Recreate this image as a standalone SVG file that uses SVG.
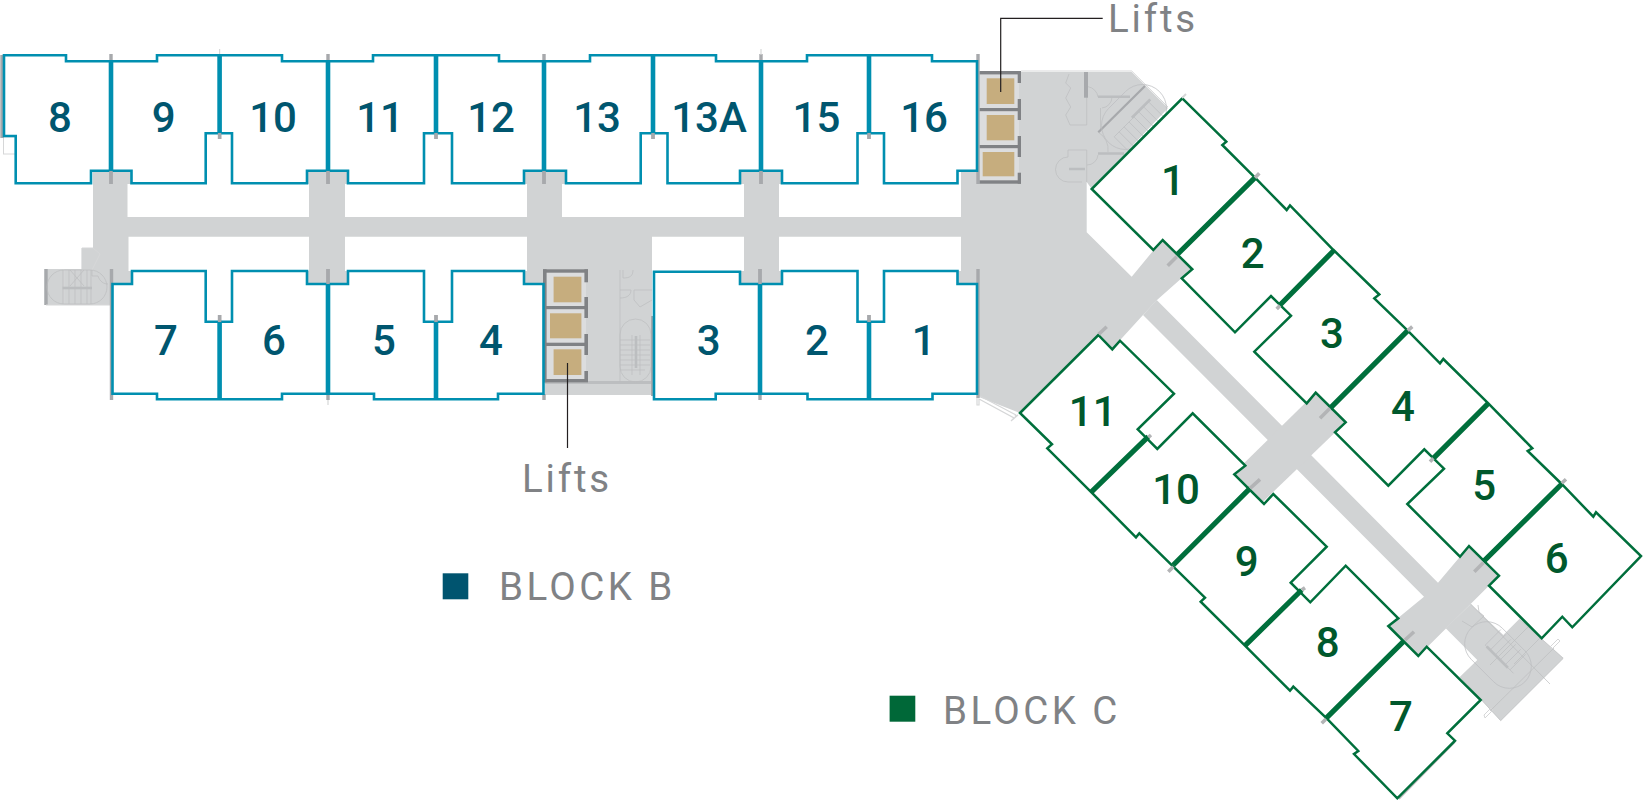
<svg xmlns="http://www.w3.org/2000/svg" width="1643" height="802" viewBox="0 0 1643 802">
<style>
.floor{fill:#d1d3d4}
.det{fill:none;stroke:#bbbdbf;stroke-width:.7}
.bar{fill:none;stroke:#bcbec0;stroke-width:2.6}
.pale{fill:none;stroke:#d6d7d8;stroke-width:1}
.stub{stroke:#a7a9ac;fill:none;stroke-width:3.4}
.stubc{stroke:#b3b4b6;fill:none;stroke-width:3.6}
.frame{fill:#808285}
.shaft{fill:#dcddde}
.car{fill:#c6ad7e}
.bo{fill:#fff;stroke:#008fb0;stroke-width:2.6}
.bw{fill:none;stroke:#008fb0;stroke-width:4.6}
.co{fill:#fff;stroke:#006f3c;stroke-width:2.5}
.cw{fill:none;stroke:#006f3c;stroke-width:5.2}
.lead{fill:none;stroke:#231f20;stroke-width:1.2}
.nb,.nc{font-family:Roboto,"Liberation Sans",sans-serif;font-weight:500;font-size:42px;text-anchor:middle}
.nb{fill:#00566f}
.nc{fill:#00582c}
.lab{font-family:Roboto,"Liberation Sans",sans-serif;font-weight:400;font-size:38.5px;fill:#808285;letter-spacing:2.8px}
.leg{letter-spacing:3.4px}
</style>
<g id="floor">
<path class="floor" d="M91,171H131V184H127.5V217H309V184H307V171H348V184H345V217H527V184H524V171H566V184H562V217H744V184H740V171H782V184H779V217H961V171H979V72H1131.7L1168,108L1091.7,189L1086.7,182V232.3L1131.7,276.7L1162,240L1192,269L1157,300L1143,315L1112,349L1098,335L1020,413L979,397V284H957.5V271H961V236.7H779V271H782V284H740V271H744V236.7H652V395H545V284H524V271H527V236.7H345V271H348V284H307V271H309V236.7H128.5V271H132V284H111V269H93V171Z"/>
<path class="floor" d="M1156.7,300L1438,582.7L1469,546L1499,575.7L1418.3,656L1388.3,626L1424,596.7L1143,315Z"/>
<path class="floor" d="M1315.7,392.7L1345.7,422.3L1263,501.7L1234,473Z"/>
<path class="floor" d="M1470.7,604L1503.3,635L1519.3,619L1563.3,658.3L1500.7,720.7L1460,676.7L1477.3,660L1445.7,628.3Z"/>
<path class="floor" d="M44.6,269H112V305H44.6ZM81.4,248H93V269H81.4Z"/>
</g>
<g id="stair-west">
<path class="stub" d="M46,269V305"/>
<path class="pale" d="M46,305H110M64,269V305M82,248H93L100,254L92,270"/>
<rect class="det" x="47" y="270" width="60" height="34" rx="17" ry="17"/>
<path class="det" d="M63,270V304M69,270V304M75,270V304M81,270V304M87,270V304M91,270V304M70,270L84,286M84,270L70,286M92,270V276H98C100,282 104,284 108,284"/>
<path class="bar" d="M62.5,288H92"/>
</g>
<g id="service-south">
<rect x="545" y="381" width="107" height="3" fill="#bcbec0"/>
<path class="det" d="M620,270V382M623,270V278C630,278 633,276 633,270M620,290H631C631,296 626,298 620,298M634,290V300L640,307L652,300M634,290H652"/>
<rect class="det" x="620" y="319" width="31" height="63" rx="15.5" ry="15.5"/>
<path class="det" d="M620,340H650M620,345H650M620,350H650M620,355H650M620,360H650M620,365H650M620,370H645M632,335V375M640,335V375"/>
<path class="bar" d="M636,336V368"/>
<path class="stub" d="M652,316V396" style="stroke-width:2"/>
</g>
<g id="service-north">
<path class="pale" d="M1021,71H1131.7L1168,107"/>
<path class="det" d="M1069,74L1065.7,83L1070.7,88L1065.7,98L1070.7,107L1065.7,115L1070,125H1086.7V97M1088,86.7A12,12 0 0 1 1098,97M1100.5,108V132M1102,108A11,11 0 0 0 1112,97M1098.3,132.3A20,20 0 0 1 1108,152M1087,165A11,11 0 0 0 1098,155M1068,150H1086.7V182M1068,150V157M1068,182H1082M1068,157A12.4,12.4 0 0 0 1068,182"/>
<path class="bar" d="M1098,96.7H1130M1098,153.5H1124M1069,169H1085"/>
<path class="stub" d="M1086,72V97.7" style="stroke-width:4"/>
<path class="stub" d="M1098.3,132.3L1145,86" style="stroke-width:2.2"/>
<g transform="translate(1134,117) rotate(-45)">
<rect class="det" x="-36" y="-24" width="72" height="48" rx="24" ry="24"/>
<path class="det" d="M-28,0V20M-21,0V20M-14,0V20M-7,0V20M0,0V20M7,0V20M14,0V20M21,0V20M-28,20H24M-28,0H24"/>
<path class="bar" d="M-2,-1H24"/>
</g>
</g>
<g id="stair-east">
<path class="det" d="M1563.3,658.3L1500.7,720.7L1460,676.7M1554,648L1490,711M1519.3,619L1563,658"/>
<g transform="translate(1498,655) rotate(45)">
<rect class="det" x="-38" y="-22" width="76" height="44" rx="22" ry="22"/>
<path class="det" d="M-16,-20V2M-9,-20V2M-2,-20V2M5,-20V2M12,-20V2M19,-20V2M-16,2H24"/>
<path class="bar" d="M-14,2H16"/>
</g>
<path class="det" d="M1470.7,604L1550,684M1462,621L1472,627L1484,616L1479,612L1478,605M1528,627L1490,665M1540,638L1514,664"/>
<path class="pale" d="M1484,715L1491,708L1493,710L1485,718ZM1550,647L1558,639L1560,641L1552,649Z"/>
</g>
<g id="lifts-north">
<rect class="shaft" x="980" y="73" width="39" height="109"/>
<rect class="frame" x="979.3" y="71" width="41.7" height="3.4"/>
<rect class="frame" x="979.3" y="108" width="41.7" height="3.2"/>
<rect class="frame" x="979.3" y="145" width="41.7" height="3.2"/>
<rect class="frame" x="979.3" y="180.3" width="41.7" height="3.4"/>
<rect class="frame" x="1017.7" y="71" width="3.3" height="12"/>
<rect class="frame" x="1017.7" y="99" width="3.3" height="21"/>
<rect class="frame" x="1017.7" y="136" width="3.3" height="21"/>
<rect class="frame" x="1017.7" y="172.7" width="3.3" height="11"/>
<rect class="car" x="986.7" y="78.3" width="27.6" height="25.7"/>
<rect class="car" x="986.7" y="115" width="27.6" height="25.3"/>
<rect class="car" x="982.7" y="152" width="31.6" height="24.3"/>
</g>
<g id="lifts-south">
<rect class="shaft" x="544" y="271" width="42" height="110"/>
<rect class="frame" x="543" y="269.3" width="45" height="3.4"/>
<rect class="frame" x="543" y="306" width="45" height="3.2"/>
<rect class="frame" x="543" y="342.7" width="45" height="3.3"/>
<rect class="frame" x="543" y="379" width="45" height="3.4"/>
<rect class="frame" x="543" y="269.3" width="3.6" height="113"/>
<rect class="frame" x="584.4" y="269.3" width="3.6" height="13"/>
<rect class="frame" x="584.4" y="297" width="3.6" height="21"/>
<rect class="frame" x="584.4" y="334" width="3.6" height="21"/>
<rect class="frame" x="584.4" y="371" width="3.6" height="11"/>
<rect class="car" x="553.6" y="276.7" width="27.8" height="25.6"/>
<rect class="car" x="550" y="313.3" width="31.4" height="25"/>
<rect class="car" x="553.6" y="349.3" width="27.8" height="25.7"/>
</g>
<g id="block-b-outline">
<rect class="pale" x="3.5" y="137" width="12.2" height="17"/>
<path class="stub" d="M111,54V62M111,171V184M219.6,133V139M328,54V62M328,171V184M436,133V139M544,54V62M544,171V184M653,133V139M761,54V62M761,171V184M869,133V139M978,54V72M978,72V184M2,55V138M111.5,269V400M219.6,315V322M328,269V284M328,394V400M436,315V322M544,394V400M760,269V284M760,394V400M869,315V322M978,269V398"/>
<path class="pale" d="M219.6,49V55M761,49V55M328,400V405M977,398V405H979V399L1014,418L1011,421L1018,415L1014.6,416M980,396L1016,415" style="stroke-width:1.2"/>
<path class="bo" d="M4,55.3H66V61.3H157V55.3H282V61.3H373V55.3H499V61.3H590V55.3H716V61.3H807V55.3H932V61.3H977V170.7H957.5V183.3H884V133.3H857.5V183.3H782V170.7H740V183.3H667.5V133.3H640.7V183.3H566V170.7H524V183.3H452V133.3H424V183.3H348V170.7H307V183.3H232V133.3H205.7V183.3H131.5V170.7H91V183.3H15.7V136H4Z"/>
<path class="bo" d="M112.5,284H132V271H205.7V321.7H232V271H307V284H348V271H424V321.7H452V271H524V284H543.5V393.7H498V399.3H374V393.7H282V399.3H157V393.7H112.5Z"/>
<path class="bo" d="M654,271.7H740V284H782V271H857.5V321.7H884V271H957.5V284H977V393.7H932.5V399.3H807.5V393.7H715.7V399.3H654Z"/>
<path class="bw" d="M111,61V171M219.6,55V133M328,61V171M436,55V133M544,61V171M653,55V133M761,61V171M869,55V133M219.6,322V399M328,284V394M436,322V399M760,284V394M869,322V399"/>
<path class="stub" d="M111,171V184M328,171V184M544,171V184M761,171V184M219.6,133V139M436,133V139M653,133V139M869,133V139M328,269V284M760,269V284M219.6,315V322M436,315V322M869,315V322"/>
</g>
<g id="block-c-outline">
<path class="stubc" d="M1020,413L1098,335M1641,557L1594,604M1455,742L1399,799" style="stroke-width:1.5"/>
<path class="co" d="M1182.3,98.3L1226.3,141.7L1222.3,145L1255,177.7L1286.7,210L1290,205.5L1333,249.5L1379.3,294.5L1374.3,298.3L1407.7,330.7L1440,363.3L1443.3,359L1488.3,403.3L1532.3,448.3L1527.7,451L1561.7,484L1593.3,516.7L1596,512.3L1641,556L1572.3,627.3L1562.3,616.7L1541.7,638.3L1489,585.7L1499,575.7L1469,546L1460,556.7L1407.3,504L1444,468.7L1424.3,449.3L1388.3,485.7L1335,432.3L1345.7,422.3L1315.7,392.7L1306.7,403.3L1254.3,351.7L1291,315.7L1271,296L1235,332.3L1181.7,278.3L1192.3,269.3L1162.7,240L1153.3,250L1091.7,189Z"/>
<path class="co" d="M1020,413L1098.3,335L1112.3,349.3L1120,340.7L1174,393.7L1137.7,429.3L1157.3,449L1192.7,413.3L1245.3,465.7L1234.3,474.3L1264,504L1273.3,494L1326.7,546.7L1290.7,582.7L1310.3,602.3L1345.7,565.7L1398.3,618.3L1388.3,626L1418.3,656L1426.7,646.7L1480.7,700L1447.3,733.3L1455,740.7L1397.3,798.3L1354,754L1358.3,751L1326.7,718.3L1293.3,686.7L1290,690.7L1245,645.7L1200.7,601.7L1205,597.7L1173.3,566.7L1139.3,533.3L1136,537.3L1091.7,492.7L1047.3,448.3L1052,444.3Z"/>
<path class="cw" d="M1255,177.7L1176.7,255M1334.3,250L1280,305M1407.7,330.7L1330,408.3M1488.3,403.3L1433.3,458.3M1561.7,484L1483.3,561.7M1148.3,436.7L1091.7,491.7M1250,488.3L1173.3,565M1301.7,590L1245,645.7M1403.3,641.7L1326,718.3"/>
<path class="stubc" d="M1167.7,265.7L1176.7,256.7M1255,177.7L1259.3,173.3M1276.7,309L1280,305.5M1098.7,334.3L1106.7,326.7M1320,418.3L1330,408.3M1407.7,330.7L1412.3,326.7M1430,461.7L1433.3,458.3M1561.7,483.3L1566,479.3M1474.3,571.7L1483.3,562.7M1148.3,437.3L1151,435M1250,488.3L1260,479.3M1168.3,571.7L1173.3,566.7M1301.7,590L1305,587.7M1405,640L1414,631.7M1321.7,723.3L1326,719"/>
<path class="pale" d="M1182,98L1186,94" style="stroke-width:2"/>
</g>
<g id="leaders">
<path class="lead" d="M1000.7,92V18.3H1102.7"/>
<path class="lead" d="M567.5,363V448"/>
</g>
<g id="labels">
<text class="lab" x="1108" y="32">Lifts</text>
<text class="lab" x="522" y="492">Lifts</text>
</g>
<g id="legend-b"><rect x="442.7" y="573.3" width="25.6" height="26" fill="#00546f"/><text class="lab leg" x="499" y="599.5">BLOCK B</text></g>
<g id="legend-c"><rect x="889.6" y="695.7" width="25.7" height="26" fill="#006838"/><text class="lab leg" x="943" y="723.5">BLOCK C</text></g>
<g id="unit-b8"><text class="nb" x="60" y="131.7">8</text></g>
<g id="unit-b9"><text class="nb" x="163.6" y="131.7">9</text></g>
<g id="unit-b10"><text class="nb" x="273" y="131.7">10</text></g>
<g id="unit-b11"><text class="nb" x="380" y="131.7">11</text></g>
<g id="unit-b12"><text class="nb" x="491" y="131.7">12</text></g>
<g id="unit-b13"><text class="nb" x="597" y="131.7">13</text></g>
<g id="unit-b13a"><text class="nb" x="709" y="131.7">13A</text></g>
<g id="unit-b15"><text class="nb" x="816.4" y="131.7">15</text></g>
<g id="unit-b16"><text class="nb" x="924" y="131.7">16</text></g>
<g id="unit-b7"><text class="nb" x="166" y="355">7</text></g>
<g id="unit-b6"><text class="nb" x="274" y="355">6</text></g>
<g id="unit-b5"><text class="nb" x="384" y="355">5</text></g>
<g id="unit-b4"><text class="nb" x="491" y="355">4</text></g>
<g id="unit-b3"><text class="nb" x="708.6" y="355">3</text></g>
<g id="unit-b2"><text class="nb" x="817" y="355">2</text></g>
<g id="unit-b1"><text class="nb" x="923.6" y="355">1</text></g>
<g id="unit-c1"><text class="nc" x="1173" y="195">1</text></g>
<g id="unit-c2"><text class="nc" x="1252.7" y="268.3">2</text></g>
<g id="unit-c3"><text class="nc" x="1332" y="348.3">3</text></g>
<g id="unit-c4"><text class="nc" x="1403" y="420.7">4</text></g>
<g id="unit-c5"><text class="nc" x="1484.3" y="500">5</text></g>
<g id="unit-c6"><text class="nc" x="1556.7" y="573.3">6</text></g>
<g id="unit-c7"><text class="nc" x="1401" y="731">7</text></g>
<g id="unit-c8"><text class="nc" x="1327.7" y="657.3">8</text></g>
<g id="unit-c9"><text class="nc" x="1246.7" y="575.7">9</text></g>
<g id="unit-c10"><text class="nc" x="1176" y="504.3">10</text></g>
<g id="unit-c11"><text class="nc" x="1092.7" y="425.7">11</text></g>
</svg>
